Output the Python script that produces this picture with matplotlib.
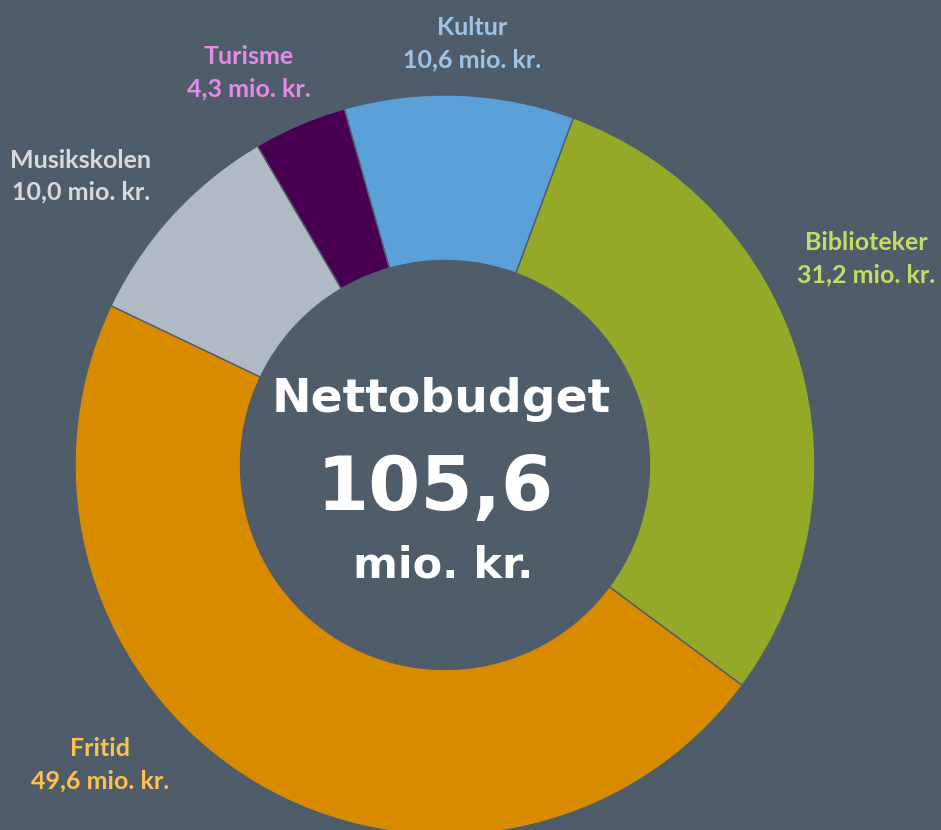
import matplotlib
matplotlib.use("Agg")
import matplotlib.pyplot as plt

categories = ["Kultur", "Biblioteker", "Fritid", "Musikskolen", "Turisme"]
values = [10.6, 31.2, 49.6, 10.0, 4.3]
value_labels = ["10,6 mio. kr.", "31,2 mio. kr.", "49,6 mio. kr.", "10,0 mio. kr.", "4,3 mio. kr."]
total_label = "105,6"

slice_colors = ["#5BA1D9", "#93A927", "#D98B00", "#B0BAC4", "#4A0052"]
label_colors = ["#9DC3E6", "#C5DC64", "#FFC04D", "#D9D9D9", "#E68AE8"]
label_pos_px = [(472, 44), (866, 259), (100, 765), (81, 176), (249, 73)]

BG = "#4F5D6B"
W, H = 941, 830

fig = plt.figure(figsize=(W / 100, H / 100), dpi=100, facecolor=BG)
ax = fig.add_axes([0, 0, 1, 1])
ax.set_facecolor(BG)

cx, cy, R, r = 445, H - 465, 370, 204.5
ax.pie(values, colors=slice_colors, startangle=105.8, counterclock=False,
       center=(cx, cy), radius=R, frame=True,
       wedgeprops=dict(width=R - r, edgecolor=BG, linewidth=1.0))
ax.set_xlim(0, W)
ax.set_ylim(0, H)
ax.set_aspect("equal")
ax.axis("off")

for name, vl, col, (x, y) in zip(categories, value_labels, label_colors, label_pos_px):
    ax.text(x, H - y + 16, name, color=col, fontsize=18, fontweight="bold",
            family="Lato", ha="center", va="center")
    ax.text(x, H - y - 16, vl, color=col, fontsize=18, fontweight="bold",
            family="Lato", ha="center", va="center")

ax.text(441, H - 412, "Nettobudget", color="white", fontsize=34, fontweight="bold",
        family="DejaVu Sans", ha="center", va="baseline")
ax.text(435, H - 510, total_label, color="white", fontsize=54, fontweight="bold",
        family="DejaVu Sans", ha="center", va="baseline")
ax.text(443, H - 578, "mio. kr.", color="white", fontsize=31, fontweight="bold",
        family="DejaVu Sans", ha="center", va="baseline")

fig.savefig("out.png", dpi=100, facecolor=BG)
